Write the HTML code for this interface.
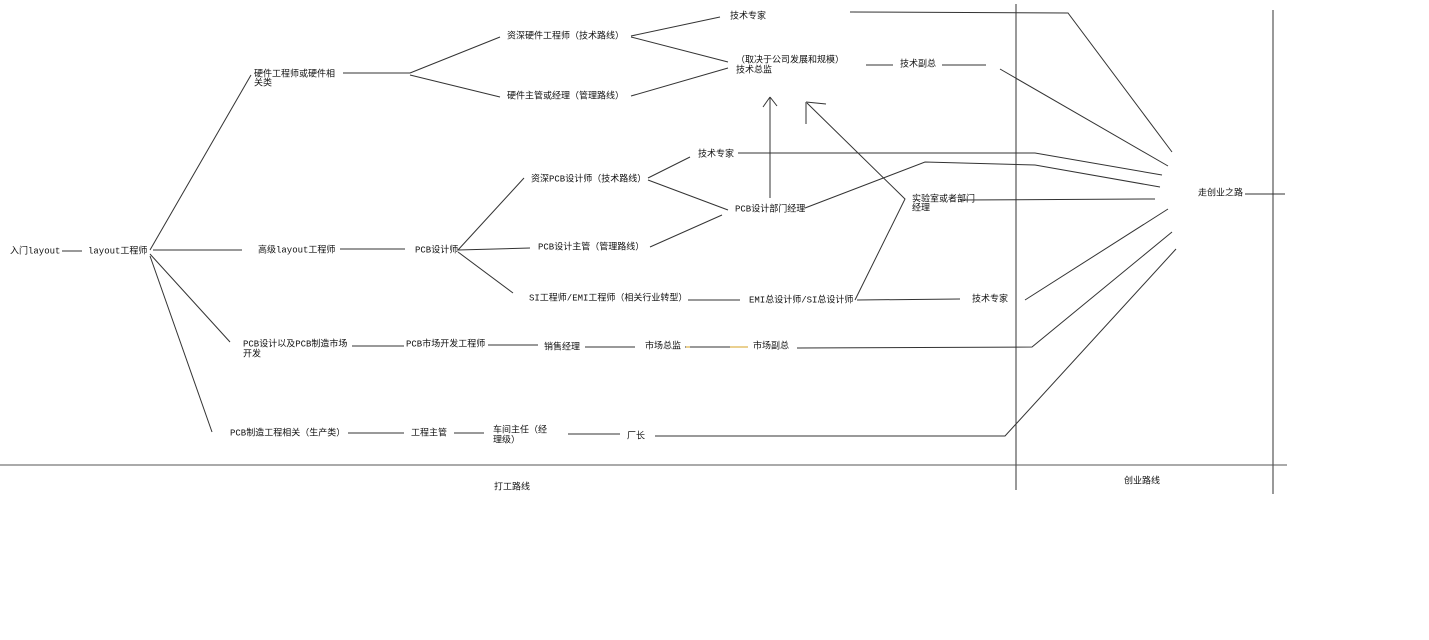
<!DOCTYPE html>
<html><head><meta charset="utf-8"><style>
html,body{margin:0;padding:0;background:#fff;}
svg{display:block}
text{font-family:"Liberation Mono","WenQuanYi Zen Hei",monospace;font-size:9px;fill:#111;dominant-baseline:middle}
line,polyline{stroke:#333;stroke-width:1;fill:none}
</style></head><body>
<svg width="1429" height="640" xmlns="http://www.w3.org/2000/svg">
<rect width="1429" height="640" fill="#fff"/>
<line x1="1016" y1="4" x2="1016" y2="490"/>
<line x1="1273" y1="10" x2="1273" y2="494"/>
<line x1="0" y1="465" x2="1287" y2="465" style="stroke:#555"/>
<text x="494" y="487">打工路线</text>
<text x="1124" y="481">创业路线</text>

<text x="10" y="251">入门layout</text>
<line x1="62" y1="251" x2="82" y2="251"/>
<text x="88" y="251">layout工程师</text>
<line x1="150" y1="250" x2="251" y2="75"/>
<line x1="153" y1="250" x2="242" y2="250"/>
<line x1="150" y1="254" x2="230" y2="342"/>
<line x1="150" y1="256" x2="212" y2="432"/>

<text x="254" y="74">硬件工程师或硬件相</text>
<text x="254" y="83">关类</text>
<line x1="343" y1="73" x2="410" y2="73"/>
<line x1="410" y1="73" x2="500" y2="37"/>
<line x1="410" y1="75" x2="500" y2="97"/>
<text x="507" y="36">资深硬件工程师（技术路线）</text>
<text x="507" y="96">硬件主管或经理（管理路线）</text>
<line x1="631" y1="36" x2="720" y2="17"/>
<line x1="631" y1="37" x2="728" y2="62"/>
<line x1="631" y1="96" x2="728" y2="68"/>
<text x="730" y="16">技术专家</text>
<polyline points="850,12 1068,13 1172,152"/>
<text x="736" y="60">（取决于公司发展和规模）</text>
<text x="736" y="70">技术总监</text>
<line x1="866" y1="65" x2="893" y2="65"/>
<text x="900" y="64">技术副总</text>
<line x1="942" y1="65" x2="986" y2="65"/>
<line x1="1000" y1="69" x2="1168" y2="166"/>

<line x1="770" y1="198" x2="770" y2="97"/>
<line x1="770" y1="97" x2="763" y2="107"/>
<line x1="770" y1="97" x2="777" y2="106"/>
<polyline points="855,300 905,199 807,103"/>
<line x1="806" y1="102" x2="826" y2="104"/>
<line x1="806" y1="102" x2="806" y2="124"/>

<text x="258" y="250">高级layout工程师</text>
<line x1="340" y1="249" x2="405" y2="249"/>
<text x="415" y="250">PCB设计师</text>
<line x1="458" y1="250" x2="524" y2="178"/>
<line x1="458" y1="250" x2="530" y2="248"/>
<line x1="458" y1="252" x2="513" y2="293"/>
<text x="531" y="179">资深PCB设计师（技术路线）</text>
<text x="538" y="247">PCB设计主管（管理路线）</text>
<text x="529" y="298">SI工程师/EMI工程师（相关行业转型）</text>
<line x1="648" y1="178" x2="690" y2="157"/>
<line x1="648" y1="180" x2="728" y2="210"/>
<line x1="650" y1="247" x2="722" y2="215"/>
<text x="698" y="154">技术专家</text>
<polyline points="738,153 1035,153 1162,175"/>
<text x="735" y="209">PCB设计部门经理</text>
<polyline points="805,208 925,162 1035,165 1160,187"/>
<text x="912" y="199">实验室或者部门</text>
<text x="912" y="208">经理</text>
<line x1="960" y1="200" x2="1155" y2="199"/>
<text x="1198" y="193">走创业之路</text>
<line x1="1245" y1="194" x2="1285" y2="194"/>

<line x1="688" y1="300" x2="740" y2="300"/>
<text x="749" y="300">EMI总设计师/SI总设计师</text>
<line x1="857" y1="300" x2="960" y2="299"/>
<text x="972" y="299">技术专家</text>
<line x1="1025" y1="300" x2="1168" y2="209"/>

<text x="243" y="344">PCB设计以及PCB制造市场</text>
<text x="243" y="354">开发</text>
<line x1="352" y1="346" x2="404" y2="346"/>
<text x="406" y="344">PCB市场开发工程师</text>
<line x1="488" y1="345" x2="538" y2="345"/>
<text x="544" y="347">销售经理</text>
<line x1="585" y1="347" x2="635" y2="347"/>
<text x="645" y="346">市场总监</text>
<line x1="685" y1="347" x2="748" y2="347"/>
<line x1="686" y1="347" x2="690" y2="347" style="stroke:#d4a020"/>
<line x1="730" y1="347" x2="748" y2="347" style="stroke:#d4a020"/>
<text x="753" y="346">市场副总</text>
<polyline points="797,348 1032,347 1172,232"/>

<text x="230" y="433">PCB制造工程相关（生产类）</text>
<line x1="348" y1="433" x2="404" y2="433"/>
<text x="411" y="433">工程主管</text>
<line x1="454" y1="433" x2="484" y2="433"/>
<text x="493" y="430">车间主任（经</text>
<text x="493" y="440">理级）</text>
<line x1="568" y1="434" x2="620" y2="434"/>
<text x="627" y="436">厂长</text>
<polyline points="655,436 1005,436 1176,249"/>
</svg>
</body></html>
